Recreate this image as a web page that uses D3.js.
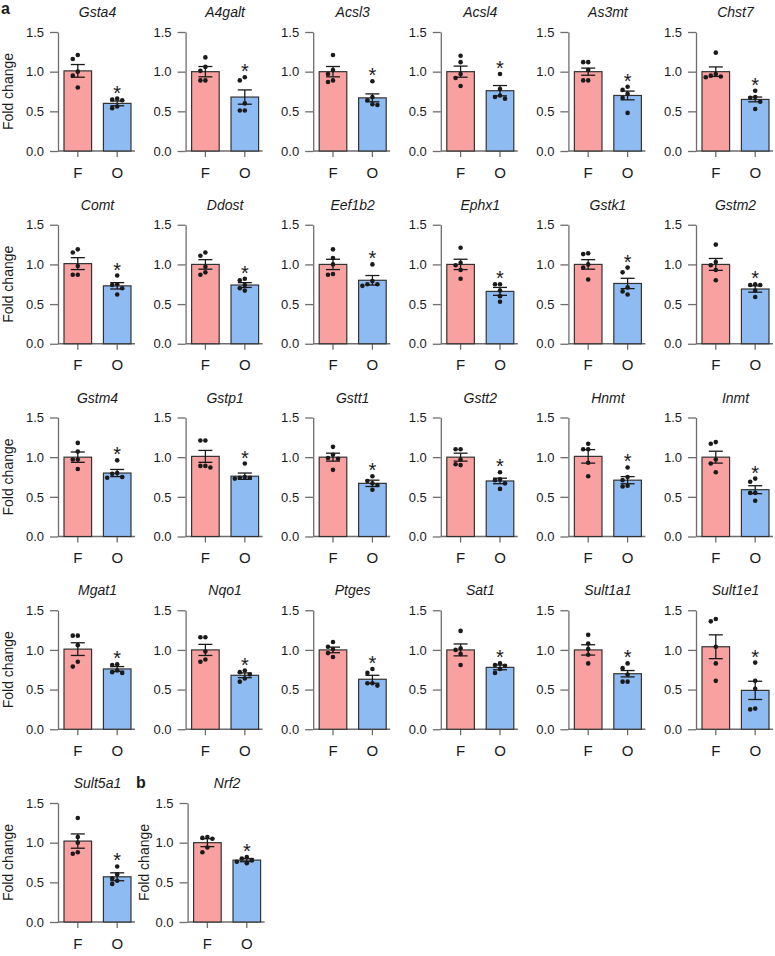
<!DOCTYPE html>
<html>
<head>
<meta charset="utf-8">
<script src="https://cdn.jsdelivr.net/npm/d3@7"></script>
<style>
  body { margin: 0; background: #fff; }
  svg { display: block; }
  text { font-family: "Liberation Sans", Arial, Helvetica, sans-serif; fill: #1a1a1a; }
</style>
</head>
<body>
<div id="chart"></div>
<script>
// genes: panel a is the first 25, panel b is Nrf2
const genes = ['Gsta4', 'A4galt', 'Acsl3', 'Acsl4', 'As3mt', 'Chst7',
  'Comt', 'Ddost', 'Eef1b2', 'Ephx1', 'Gstk1', 'Gstm2',
  'Gstm4', 'Gstp1', 'Gstt1', 'Gstt2', 'Hnmt', 'Inmt',
  'Mgat1', 'Nqo1', 'Ptges', 'Sat1', 'Sult1a1', 'Sult1e1',
  'Sult5a1', 'Nrf2'];
const groups = ['F', 'O'];
const yTicks = [0, 0.5, 1.0, 1.5];

// F group: mean, SEM, individual animals
const fMean = [1.01, 1.00, 1.00, 1.00, 1.00, 1.00,
  1.01, 1.00, 1.00, 1.00, 1.00, 1.00,
  1.00, 1.01, 1.00, 1.00, 1.01, 1.00,
  1.01, 1.00, 1.00, 1.00, 1.00, 1.04,
  1.02, 1.00];
const fSem = [0.08, 0.065, 0.065, 0.07, 0.045, 0.06,
  0.075, 0.06, 0.065, 0.065, 0.06, 0.075,
  0.065, 0.075, 0.05, 0.05, 0.085, 0.075,
  0.08, 0.07, 0.035, 0.075, 0.065, 0.15,
  0.09, 0.05];
const fDots = [
  [1.21, 1.16, 1.00, 0.95, 0.80], [1.18, 1.06, 1.01, 0.89, 0.89], [1.21, 1.02, 0.97, 0.87, 0.89],
  [1.20, 1.12, 0.97, 0.92, 0.82], [1.12, 1.12, 1.02, 0.89, 0.89], [1.24, 0.97, 0.94, 0.95, 0.93],
  [1.15, 1.19, 0.98, 0.87, 0.87], [1.15, 1.11, 0.97, 0.87, 0.90], [1.19, 1.00, 0.87, 0.88, 1.08],
  [1.21, 1.02, 0.99, 0.93, 0.82], [1.13, 1.14, 1.00, 0.96, 0.81], [1.25, 1.03, 0.99, 0.93, 0.80],
  [1.18, 1.07, 0.97, 0.97, 0.85], [1.21, 1.21, 0.89, 0.87, 0.89], [1.13, 0.98, 0.99, 1.03, 0.84],
  [1.10, 1.10, 0.97, 0.90, 0.91], [1.17, 1.10, 1.10, 0.93, 0.76], [1.19, 1.17, 0.97, 0.92, 0.81],
  [1.18, 1.18, 1.06, 0.79, 0.85], [1.16, 1.16, 0.98, 0.85, 0.88], [1.10, 1.04, 1.01, 0.91, 0.96],
  [1.24, 1.00, 0.95, 1.02, 0.81], [1.19, 1.08, 0.94, 0.83, 1.01], [1.39, 1.36, 1.04, 0.83, 0.61],
  [1.31, 1.07, 1.00, 0.88, 0.86], [1.07, 1.06, 1.05, 0.94, 0.88]
];

// O group
const oMean = [0.60, 0.68, 0.67, 0.76, 0.70, 0.65,
  0.73, 0.74, 0.80, 0.66, 0.76, 0.69,
  0.80, 0.76, 0.67, 0.70, 0.71, 0.59,
  0.76, 0.68, 0.63, 0.78, 0.70, 0.49,
  0.57, 0.78];
const oSem = [0.03, 0.09, 0.05, 0.065, 0.055, 0.03,
  0.04, 0.03, 0.06, 0.05, 0.065, 0.04,
  0.045, 0.04, 0.04, 0.035, 0.045, 0.05,
  0.03, 0.03, 0.05, 0.03, 0.04, 0.115,
  0.05, 0.02];
const oDots = [
  [0.65, 0.66, 0.64, 0.54, 0.56], [0.93, 0.89, 0.60, 0.51, 0.51], [0.88, 0.68, 0.64, 0.58, 0.59],
  [0.97, 0.78, 0.70, 0.66, 0.68], [0.77, 0.81, 0.72, 0.67, 0.48], [0.76, 0.67, 0.68, 0.62, 0.53],
  [0.86, 0.75, 0.74, 0.70, 0.62], [0.82, 0.80, 0.74, 0.70, 0.67], [1.00, 0.75, 0.73, 0.75, 0.79],
  [0.75, 0.75, 0.67, 0.60, 0.53], [0.96, 0.90, 0.71, 0.62, 0.66], [0.74, 0.75, 0.74, 0.67, 0.59],
  [0.96, 0.79, 0.80, 0.74, 0.75], [0.92, 0.74, 0.74, 0.75, 0.73], [0.76, 0.70, 0.67, 0.59, 0.65],
  [0.81, 0.71, 0.72, 0.67, 0.60], [0.87, 0.75, 0.71, 0.63, 0.64], [0.73, 0.69, 0.55, 0.55, 0.45],
  [0.82, 0.81, 0.74, 0.72, 0.71], [0.74, 0.72, 0.69, 0.64, 0.60], [0.76, 0.71, 0.58, 0.55, 0.58],
  [0.81, 0.80, 0.83, 0.71, 0.76], [0.83, 0.77, 0.69, 0.60, 0.60], [0.84, 0.61, 0.51, 0.25, 0.26],
  [0.70, 0.60, 0.55, 0.52, 0.48], [0.82, 0.80, 0.78, 0.76, 0.74]
];

const W = 775, H = 956;
const fillColor = { F: '#f8a1a0', O: '#8fbbf3' };
const axisColor = '#6e6e6e';
const ink = '#1a1a1a';

const svg = d3.select('#chart').append('svg')
  .attr('width', W).attr('height', H)
  .attr('viewBox', `0 0 ${W} ${H}`);

svg.append('rect').attr('width', W).attr('height', H).attr('fill', '#fff');

// panel letters
svg.append('text').attr('x', 1).attr('y', 14)
  .attr('font-size', '16px').attr('font-weight', 700).text('a');
svg.append('text').attr('x', 136).attr('y', 788)
  .attr('font-size', '16px').attr('font-weight', 700).text('b');

// simple beeswarm so dots at the same level sit side by side
function swarm(vals, y) {
  const placed = [];
  const order = vals.map((v, i) => i).sort((a, b) => vals[b] - vals[a]);
  const out = new Array(vals.length);
  order.forEach(i => {
    const py = y(vals[i]);
    const tries = [0, -5, 5, -10, 10];
    let dx = 0;
    for (const t of tries) {
      if (placed.every(p => Math.hypot(p.dx - t, p.py - py) >= 5)) { dx = t; break; }
    }
    placed.push({ dx, py });
    out[i] = { v: vals[i], dx, py };
  });
  return out;
}

genes.forEach((gene, i) => {
  const isB = gene === 'Nrf2';
  const row = isB ? 4 : Math.floor(i / 6);
  const col = isB ? 1 : i % 6;
  const left = 64 + col * 127.6 + (isB ? 2 : 0);
  const zero = 151 + row * 192.75;
  const axisX = left - 6;

  const y = d3.scaleLinear().domain([0, 1.5]).range([zero, zero - 119]);
  const x = d3.scaleBand().domain(groups).range([left, left + 67]).paddingInner(0.3);
  const bw = x.bandwidth();

  const g = svg.append('g');

  // y axis
  const ya = g.append('g')
    .attr('transform', `translate(${axisX},0)`)
    .call(d3.axisLeft(y).tickValues(yTicks).tickFormat(d3.format('.1f'))
      .tickSize(8).tickSizeOuter(0).tickPadding(6));
  ya.attr('font-family', null).attr('font-size', null);
  ya.select('.domain').attr('stroke', axisColor).attr('stroke-width', 1.3);
  ya.selectAll('.tick line').attr('stroke', axisColor).attr('stroke-width', 1.3);
  ya.selectAll('.tick text').attr('font-size', '13px').attr('fill', ink);

  // x axis: baseline + ticks at group centres
  g.append('line')
    .attr('x1', axisX).attr('x2', left + 67 + 4)
    .attr('y1', zero).attr('y2', zero)
    .attr('stroke', axisColor).attr('stroke-width', 1.3);
  const xa = g.append('g')
    .attr('transform', `translate(0,${zero})`)
    .call(d3.axisBottom(x).tickSize(6).tickSizeOuter(0).tickPadding(10));
  xa.attr('font-family', null).attr('font-size', null);
  xa.select('.domain').remove();
  xa.selectAll('.tick line').attr('stroke', axisColor).attr('stroke-width', 1.3);
  xa.selectAll('.tick text').attr('font-size', '15px').attr('fill', ink);

  // gene title
  g.append('text')
    .attr('x', left + 33.5).attr('y', y(1.5) - 15)
    .attr('text-anchor', 'middle')
    .attr('font-size', '14px').attr('font-style', 'italic')
    .text(gene);

  // y label
  if (col === 0 || isB) {
    g.append('text')
      .attr('transform', `translate(${axisX - (isB ? 39 : 45)},${(y(0) + y(1.5)) / 2}) rotate(-90)`)
      .attr('text-anchor', 'middle')
      .attr('font-size', '14px')
      .text('Fold change');
  }

  const stats = [
    { k: 'F', mean: fMean[i], sem: fSem[i], dots: fDots[i] },
    { k: 'O', mean: oMean[i], sem: oSem[i], dots: oDots[i] }
  ];

  stats.forEach(s => {
    const x0 = x(s.k), cx = x0 + bw / 2;

    g.append('rect')
      .attr('x', x0).attr('y', y(s.mean))
      .attr('width', bw).attr('height', y(0) - y(s.mean))
      .attr('fill', fillColor[s.k])
      .attr('stroke', '#333').attr('stroke-width', 1.2);

    // error bar (SEM)
    const eb = g.append('g').attr('stroke', ink).attr('stroke-width', 1.3);
    eb.append('line').attr('x1', cx).attr('x2', cx)
      .attr('y1', y(s.mean + s.sem)).attr('y2', y(s.mean - s.sem));
    [s.mean + s.sem, s.mean - s.sem].forEach(v => {
      eb.append('line').attr('x1', cx - 7).attr('x2', cx + 7)
        .attr('y1', y(v)).attr('y2', y(v));
    });

    // individual points
    const pts = swarm(s.dots, y);
    g.selectAll(null).data(pts).enter().append('circle')
      .attr('cx', d => cx + d.dx).attr('cy', d => d.py)
      .attr('r', 2.3).attr('fill', ink);

    // significance mark on O
    if (s.k === 'O') {
      const top = Math.min(y(s.mean + s.sem), d3.min(pts, d => d.py) - 2);
      g.append('text')
        .attr('x', cx).attr('y', top + 3)
        .attr('text-anchor', 'middle')
        .attr('font-size', '20px')
        .text('*');
    }
  });
});
</script>
</body>
</html>
